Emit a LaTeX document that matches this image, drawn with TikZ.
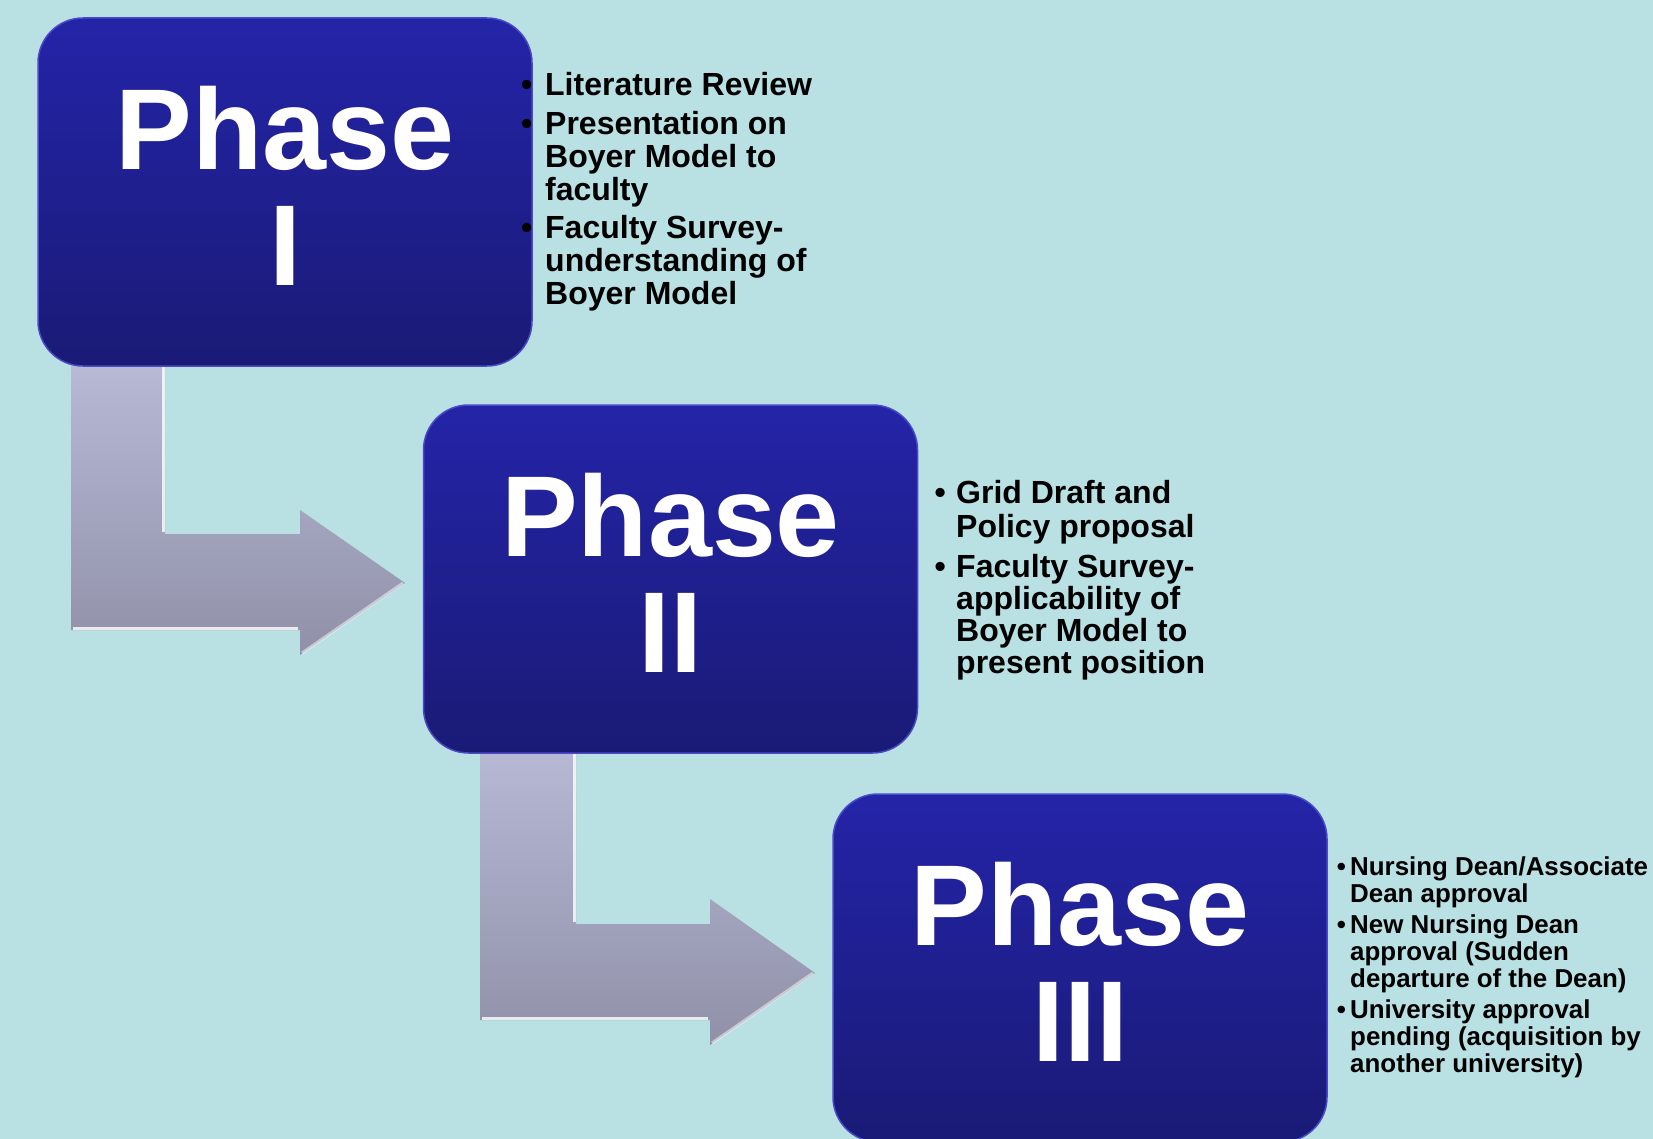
\documentclass[tikz,border=0pt]{standalone}
\usepackage{fontspec}
\setmainfont{Liberation Sans}
\usetikzlibrary{positioning}
\definecolor{bgteal}{RGB}{185,224,227}
\definecolor{boxtop}{RGB}{36,36,168}
\definecolor{boxbot}{RGB}{26,26,118}
\definecolor{boxrim}{RGB}{74,74,200}
\definecolor{arrtop}{RGB}{184,186,214}
\definecolor{arrbot}{RGB}{144,144,168}
\newcommand{\blt}[1][12pt]{\llap{\textbullet\hspace{#1}}}
\begin{document}
\begin{tikzpicture}[x=1pt,y=-1pt,
	phasebox/.style={rounded corners=45pt, minimum width=494pt, minimum height=348pt, inner sep=0pt,
		top color=boxtop, bottom color=boxbot, draw=boxrim, line width=1.5pt,
		text=white, align=center, font=\fontsize{115}{116}\selectfont\bfseries, text depth=12pt},
	tasklist/.style={anchor=north west, align=left, inner sep=0pt},
	bentarrow/.style={top color=arrtop, bottom color=arrbot},
	glint/.style={white, opacity=.8, line width=3pt}]
	\useasboundingbox (0,0) rectangle (1653,1139);
	\clip (0,0) rectangle (1653,1139);
	\fill[bgteal] (0,0) rectangle (1653,1139);
	% bent arrows
	\shade[bentarrow] (71,360) -- ++(94,0) -- ++(0,174) -- ++(135,0) -- ++(0,-24) -- ++(105,73) -- ++(-105,72) -- ++(0,-25) -- ++(-229,0) -- cycle;
	\draw[glint] (163,366) -- (163,532);
	\draw[glint] (73,628) -- (298,628);
	\draw[glint, opacity=.5] (302,653) -- (403,583);
	\shade[bentarrow] (480,740) -- ++(96,0) -- ++(0,184) -- ++(134,0) -- ++(0,-25) -- ++(105,74) -- ++(-105,72) -- ++(0,-25) -- ++(-230,0) -- cycle;
	\draw[glint] (574,752) -- (574,922);
	\draw[glint] (482,1018) -- (708,1018);
	\draw[glint, opacity=.5] (712,1043) -- (813,973);
	% phase boxes
	\node[phasebox] (phase1) at (285,192) {Phase\\I};
	\node[phasebox] (phase2) at (670.5,579) {Phase\\II};
	\node[phasebox] (phase3) at (1080,968) {Phase\\III};
	% task lists
	\node[tasklist, font=\fontsize{32}{33}\selectfont\bfseries] (tasks1) at (545,72)
		{\blt[13pt]\strut Literature Review\\[5pt]
		 \blt[13pt]Presentation on\\Boyer Model to\\faculty\\[5pt]
		 \blt[13pt]Faculty Survey-\\understanding of\\Boyer Model};
	\node[tasklist, font=\fontsize{32}{32}\selectfont\bfseries] (tasks2) at (956,480.6)
		{\blt[10.5pt]\strut Grid Draft and\\Policy proposal\\[8pt]
		 \blt[10.5pt]Faculty Survey-\\applicability of\\Boyer Model to\\present position};
	\node[tasklist, font=\fontsize{25.9}{27}\selectfont\bfseries] (tasks3) at (1350,856.1)
		{\blt[4.3pt]\strut Nursing Dean/Associate\\Dean approval\\[4pt]
		 \blt[4.3pt]New Nursing Dean\\approval (Sudden\\departure of the Dean)\\[4pt]
		 \blt[4.3pt]University approval\\pending (acquisition by\\another university)};
\end{tikzpicture}
\end{document}
